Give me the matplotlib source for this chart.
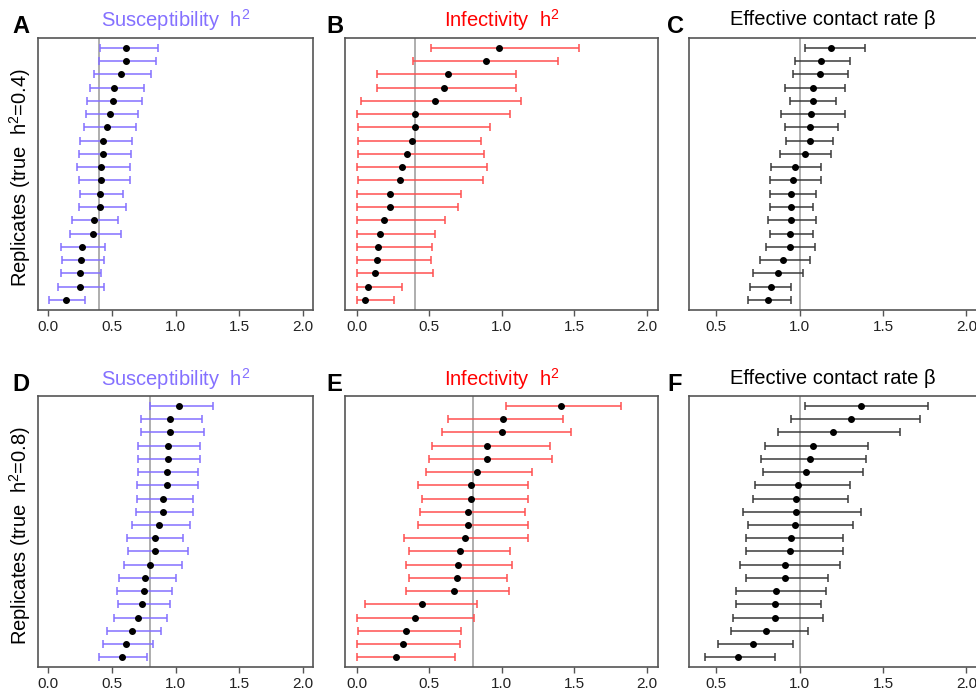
import matplotlib
matplotlib.use("Agg")
import matplotlib.pyplot as plt
import numpy as np

plt.rcParams['font.family'] = ['Liberation Sans', 'DejaVu Sans']

# estimates and 95% intervals, top replicate first
a_est = [0.61, 0.61, 0.57, 0.52, 0.51, 0.49, 0.46, 0.43, 0.43, 0.42, 0.42, 0.41, 0.41, 0.36, 0.35, 0.27, 0.26, 0.25, 0.25, 0.14]
a_lo = [0.41, 0.40, 0.36, 0.33, 0.31, 0.30, 0.28, 0.25, 0.24, 0.23, 0.24, 0.25, 0.24, 0.19, 0.17, 0.10, 0.11, 0.10, 0.08, 0.01]
a_hi = [0.86, 0.85, 0.81, 0.75, 0.74, 0.71, 0.69, 0.66, 0.65, 0.64, 0.64, 0.59, 0.61, 0.55, 0.57, 0.45, 0.44, 0.42, 0.44, 0.29]

b_est = [0.98, 0.89, 0.63, 0.60, 0.54, 0.40, 0.40, 0.38, 0.35, 0.31, 0.30, 0.23, 0.23, 0.19, 0.16, 0.15, 0.14, 0.13, 0.08, 0.06]
b_lo = [0.51, 0.39, 0.14, 0.14, 0.03, 0.00, 0.01, 0.01, 0.01, 0.00, 0.01, 0.00, 0.00, 0.00, 0.00, 0.00, 0.00, 0.00, 0.00, 0.00]
b_hi = [1.53, 1.39, 1.10, 1.10, 1.13, 1.06, 0.92, 0.86, 0.88, 0.90, 0.87, 0.72, 0.70, 0.61, 0.54, 0.52, 0.51, 0.53, 0.31, 0.26]

c_est = [1.19, 1.13, 1.12, 1.08, 1.08, 1.07, 1.06, 1.06, 1.03, 0.97, 0.96, 0.95, 0.95, 0.95, 0.94, 0.94, 0.90, 0.87, 0.83, 0.81]
c_lo = [1.03, 0.97, 0.96, 0.91, 0.94, 0.89, 0.91, 0.92, 0.88, 0.83, 0.82, 0.82, 0.82, 0.81, 0.82, 0.80, 0.76, 0.72, 0.70, 0.69]
c_hi = [1.39, 1.30, 1.29, 1.27, 1.22, 1.27, 1.23, 1.20, 1.19, 1.13, 1.13, 1.10, 1.08, 1.10, 1.08, 1.09, 1.06, 1.02, 0.95, 0.95]

d_est = [1.03, 0.96, 0.96, 0.94, 0.94, 0.93, 0.93, 0.90, 0.90, 0.87, 0.84, 0.84, 0.80, 0.76, 0.75, 0.74, 0.71, 0.66, 0.61, 0.58]
d_lo = [0.80, 0.73, 0.73, 0.71, 0.71, 0.71, 0.70, 0.70, 0.69, 0.66, 0.62, 0.63, 0.60, 0.56, 0.54, 0.55, 0.52, 0.46, 0.43, 0.40]
d_hi = [1.29, 1.21, 1.22, 1.19, 1.19, 1.18, 1.18, 1.14, 1.14, 1.11, 1.06, 1.10, 1.05, 1.00, 0.97, 0.96, 0.93, 0.89, 0.82, 0.78]

e_est = [1.41, 1.01, 1.00, 0.90, 0.90, 0.83, 0.79, 0.79, 0.77, 0.77, 0.75, 0.71, 0.70, 0.69, 0.67, 0.45, 0.40, 0.34, 0.32, 0.27]
e_lo = [1.03, 0.63, 0.59, 0.52, 0.50, 0.48, 0.42, 0.45, 0.44, 0.42, 0.33, 0.36, 0.34, 0.36, 0.34, 0.06, 0.00, 0.01, 0.00, 0.00]
e_hi = [1.82, 1.42, 1.48, 1.33, 1.35, 1.21, 1.18, 1.18, 1.16, 1.18, 1.18, 1.06, 1.07, 1.04, 1.05, 0.83, 0.81, 0.72, 0.71, 0.68]

f_est = [1.37, 1.31, 1.20, 1.08, 1.06, 1.04, 0.99, 0.98, 0.98, 0.97, 0.95, 0.94, 0.91, 0.91, 0.86, 0.85, 0.85, 0.80, 0.72, 0.63]
f_lo = [1.03, 0.95, 0.87, 0.79, 0.77, 0.78, 0.73, 0.72, 0.66, 0.69, 0.68, 0.68, 0.64, 0.68, 0.62, 0.62, 0.60, 0.59, 0.51, 0.43]
f_hi = [1.77, 1.72, 1.60, 1.41, 1.40, 1.38, 1.30, 1.29, 1.37, 1.32, 1.26, 1.26, 1.24, 1.17, 1.16, 1.13, 1.14, 1.05, 0.96, 0.85]

h2_true = [0.4, 0.8]
beta_true = 1.0

purple = '#8470FF'
red = '#FF0000'

W, H = 976, 697
fig = plt.figure(figsize=(W / 100, H / 100), dpi=100)


def px_axes(x0, x1, y0, y1):
    # axes from pixel box (top-left origin)
    return fig.add_axes([x0 / W, 1 - y1 / H, (x1 - x0) / W, (y1 - y0) / H])


def panel(ax, est, lo, hi, bar_col, ref, xlim, ticks):
    est = np.array(est)
    lo = np.array(lo)
    hi = np.array(hi)
    y = np.arange(len(est), 0, -1)
    ax.axvline(ref, color='#a8a8a8', lw=1.3, zorder=1)
    ax.errorbar(est, y, xerr=[est - lo, hi - est], fmt='none', ecolor=bar_col,
                elinewidth=1.1, capsize=3, capthick=1.1, zorder=2)
    ax.plot(est, y, 'o', color='black', ms=4, zorder=3)
    ax.set_xlim(*xlim)
    ax.set_ylim(0.24, 20.76)
    ax.set_yticks([])
    ax.set_xticks(ticks)
    ax.set_xticklabels(['%.1f' % t for t in ticks])
    ax.tick_params(axis='x', length=4.5, width=1, color='#555555',
                   labelsize=11, labelcolor='#222222', pad=2.5)
    for s in ax.spines.values():
        s.set_color('#555555')
        s.set_linewidth(1.2)


h_ticks = [0.0, 0.5, 1.0, 1.5, 2.0]
b_ticks = [0.5, 1.0, 1.5, 2.0]

rows = [(37.7, 310.0), (396.0, 667.3)]
data = [
    [(a_est, a_lo, a_hi), (b_est, b_lo, b_hi), (c_est, c_lo, c_hi)],
    [(d_est, d_lo, d_hi), (e_est, e_lo, e_hi), (f_est, f_lo, f_hi)],
]
letters = [['A', 'B', 'C'], ['D', 'E', 'F']]
letter_x = [12, 326, 667]

for r, (top, bot) in enumerate(rows):
    ref = h2_true[r]
    axA = px_axes(37.7, 313.3, top, bot)
    axB = px_axes(345.0, 658.3, top, bot)
    axC = px_axes(689.0, 977.0, top, bot)

    est, lo, hi = data[r][0]
    panel(axA, est, lo, hi, purple, ref, (-0.08, 2.08), h_ticks)
    axA.set_title('Susceptibility  h$\\mathregular{^2}$', color=purple, fontsize=14.5, pad=7.5)

    est, lo, hi = data[r][1]
    panel(axB, est, lo, hi, '#FF5050', ref, (-0.08, 2.08), h_ticks)
    axB.set_title('Infectivity  h$\\mathregular{^2}$', color=red, fontsize=14.5, pad=7.5)

    est, lo, hi = data[r][2]
    panel(axC, est, lo, hi, '#3a3a3a', beta_true, (0.336, 2.064), b_ticks)
    axC.set_title('Effective contact rate β', color='black', fontsize=14.5, pad=9)

    fig.text(20 / W, 1 - (top + 140) / H,
             'Replicates (true  h$\\mathregular{^2}$=%.1f)' % ref,
             rotation=90, ha='center', va='center', fontsize=14.5)

    base = top - 4.5
    for lx, lt in zip(letter_x, letters[r]):
        fig.text(lx / W, 1 - base / H, lt, fontsize=17, fontweight='bold',
                 ha='left', va='baseline')

fig.savefig('out.png', dpi=100)
